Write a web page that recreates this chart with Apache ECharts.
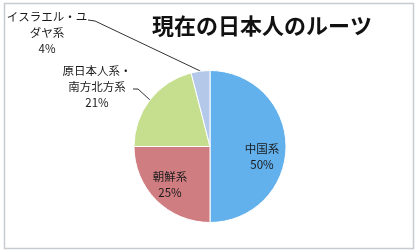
<!DOCTYPE html>
<html>
<head>
<meta charset="utf-8">
<script src="https://cdn.jsdelivr.net/npm/echarts@6/dist/echarts.min.js"></script>
<style>
html,body{margin:0;padding:0;background:#fff;}
#c{width:417px;height:251px;}
</style>
</head>
<body>
<div id="c"></div>
<script>
const title = '現在の日本人のルーツ';
const categories = ['中国系', '朝鮮系', '原日本人系・\n南方北方系', 'イスラエル・ユ\nダヤ系'];
const values = [50, 25, 21, 4];
const colors = ['#62b0ec', '#cf7d80', '#c6df8e', '#b4c8ea'];

const FONT = '"Noto Sans CJK JP", "Noto Sans", sans-serif';
const chart = echarts.init(document.getElementById('c'), null, {renderer: 'canvas'});

const labelPos = [
  {x: 262, y: 157},
  {x: 170, y: 185},
  {x: 97, y: 87},
  {x: 47, y: 33}
];
const lineBends = {
  2: [[138, 89], [133, 89]],
  3: [[95, 21], [88, 20]]
};

const data = categories.map((name, i) => {
  const outside = i >= 2;
  return {
    name: name,
    value: values[i],
    itemStyle: {color: colors[i]},
    label: {position: outside ? 'outside' : 'inside'},
    labelLine: {show: outside}
  };
});

chart.setOption({
  backgroundColor: '#ffffff',
  animation: false,
  graphic: [{
    type: 'rect',
    shape: {x: 4.5, y: 3.5, width: 409, height: 245},
    style: {fill: 'none', stroke: '#c8ccd0', lineWidth: 1.5},
    silent: true
  }, {
    type: 'text',
    left: 152,
    top: 15,
    style: {
      text: title,
      font: 'bold 22px ' + FONT,
      fill: '#111'
    }
  }],
  series: [{
    type: 'pie',
    center: [210, 146.5],
    radius: [0, 76],
    startAngle: 90,
    clockwise: true,
    avoidLabelOverlap: false,
    itemStyle: {borderColor: '#ffffff', borderWidth: 1},
    label: {
      formatter: '{b}\n{d}%',
      fontFamily: FONT,
      fontSize: 11.5,
      lineHeight: 16,
      color: '#1a1a1a',
      align: 'center'
    },
    labelLine: {
      lineStyle: {color: '#333', width: 1}
    },
    labelLayout: function (params) {
      const i = params.dataIndex;
      const p = labelPos[i];
      const res = {x: p.x, y: p.y, align: 'center', verticalAlign: 'middle'};
      if (lineBends[i] && params.labelLinePoints) {
        res.labelLinePoints = [params.labelLinePoints[0]].concat(lineBends[i]);
      }
      return res;
    },
    data: data
  }]
});
</script>
</body>
</html>
